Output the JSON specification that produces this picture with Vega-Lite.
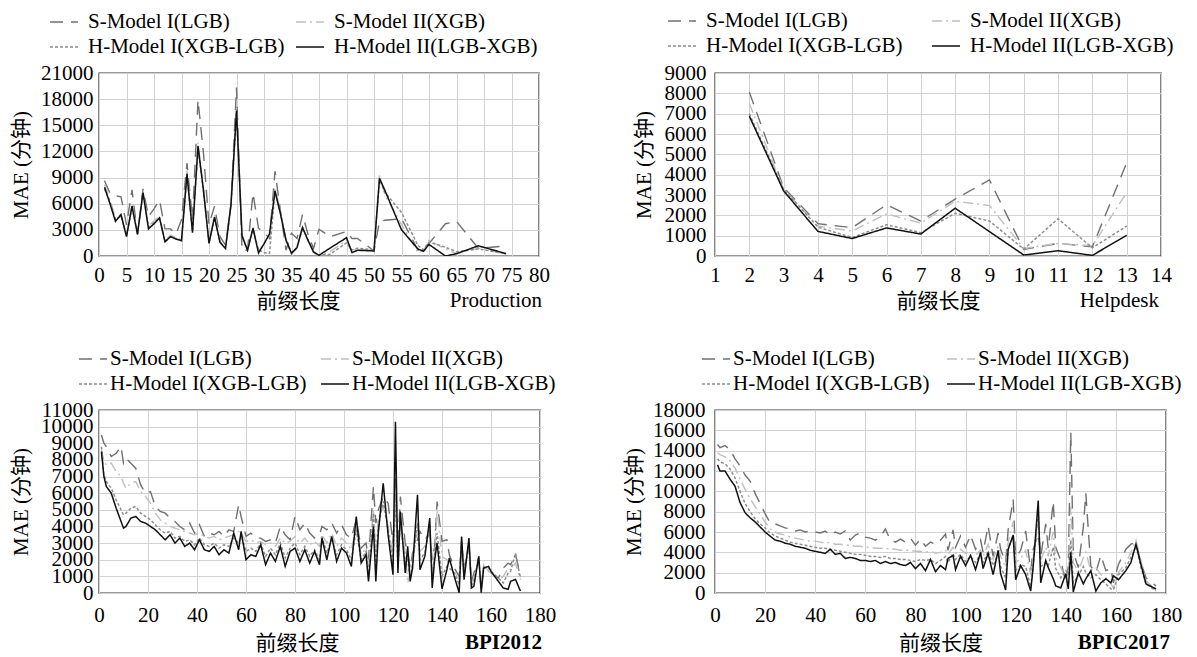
{
  "$schema": "https://vega.github.io/schema/vega-lite/v6.json",
  "padding": {"left": 9, "top": 5, "right": 5, "bottom": 0},
  "background": "white",
  "columns": 2,
  "spacing": {"column": 65, "row": 31},
  "resolve": {
    "scale": {"color": "independent", "strokeDash": "independent", "strokeWidth": "independent"},
    "legend": {"color": "independent", "strokeDash": "independent", "strokeWidth": "independent"}
  },
  "config": {
    "font": "'Liberation Serif', 'Times New Roman', 'Noto Sans CJK SC', serif",
    "view": {"stroke": "#333333", "strokeWidth": 1.4},
    "axis": {
      "labelFont": "'Liberation Serif', 'Times New Roman', 'Noto Sans CJK SC', serif",
      "titleFont": "'Liberation Serif', 'Times New Roman', 'Noto Sans CJK SC', serif",
      "labelFontSize": 21, "titleFontSize": 21, "labelColor": "#000", "titleColor": "#000",
      "titleFontWeight": "normal", "grid": true, "gridColor": "#d2d2d2", "gridWidth": 1,
      "domain": false, "ticks": false, "tickSize": 0, "labelOverlap": false, "labelFlush": false, "labelBound": false,
      "format": "d"
    },
    "axisX": {"labelPadding": 8, "titlePadding": 5},
    "axisY": {"labelPadding": 6, "titlePadding": 9},
    "legend": {
      "labelFont": "'Liberation Serif', 'Times New Roman', 'Noto Sans CJK SC', serif", "labelFontSize": 21, "labelColor": "#000",
      "symbolType": "stroke", "symbolSize": 784, "columns": 2, "direction": "horizontal", "orient": "none", "title": null,
      "labelLimit": 400, "padding": 0
    },
    "title": {
      "font": "'Liberation Serif', 'Times New Roman', 'Noto Sans CJK SC', serif", "fontSize": 21, "fontWeight": "normal", "color": "#000",
      "orient": "bottom", "anchor": "end", "frame": "group", "offset": -21
    }
  },
  "concat": [
    {
      "width": 440, "height": 183,
      "title": {"text": "Production", "dx": 3},
      "data": {"values": [
        {"x":1,"a":8640,"b":8200,"c":7700,"d":7900},{"x":2,"a":7200,"b":6500,"c":6200,"d":6000},
        {"x":3,"a":6900,"b":4300,"c":4200,"d":3970},{"x":4,"a":6800,"b":4800,"c":4600,"d":4750},
        {"x":5,"a":3580,"b":2500,"c":2300,"d":2220},{"x":6,"a":7590,"b":5900,"c":5600,"d":5720},
        {"x":7,"a":2490,"b":2700,"c":2600,"d":2490},{"x":8,"a":7700,"b":7400,"c":7200,"d":7280},
        {"x":9,"a":4550,"b":3500,"c":3300,"d":3110},{"x":10,"a":5400,"b":4000,"c":3800,"d":3700},
        {"x":11,"a":6420,"b":4600,"c":4400,"d":4360},{"x":12,"a":3110,"b":1800,"c":1700,"d":1630},
        {"x":13,"a":3110,"b":2400,"c":2200,"d":2220},{"x":14,"a":2530,"b":2100,"c":2000,"d":1950},
        {"x":15,"a":4160,"b":1900,"c":1800,"d":1750},{"x":16,"a":10660,"b":9800,"c":9200,"d":9420},
        {"x":17,"a":4160,"b":2900,"c":2800,"d":2680},{"x":18,"a":17900,"b":13000,"c":12400,"d":12650},
        {"x":19,"a":11750,"b":7800,"c":7400,"d":7500},{"x":20,"a":3580,"b":1700,"c":1500,"d":1440},
        {"x":21,"a":5720,"b":4700,"c":4400,"d":4470},{"x":22,"a":2220,"b":1700,"c":1600,"d":1560},
        {"x":23,"a":1250,"b":1000,"c":900,"d":860},{"x":24,"a":5910,"b":6000,"c":5800,"d":5910},
        {"x":25,"a":19340,"b":17000,"c":16500,"d":16690},{"x":26,"a":660,"b":2400,"c":2200,"d":2330},
        {"x":27,"a":660,"b":800,"c":700,"d":660},{"x":28,"a":7200,"b":3300,"c":3000,"d":3190},
        {"x":29,"a":3190,"b":600,"c":700,"d":350},{"x":30,"a":2700,"b":1300,"c":400,"d":1400},
        {"x":31,"a":2020,"b":2400,"c":300,"d":2530},{"x":32,"a":9730,"b":7900,"c":7400,"d":7470},
        {"x":33,"a":5140,"b":5000,"c":4900,"d":4800},{"x":34,"a":660,"b":1700,"c":1900,"d":1830},
        {"x":35,"a":2610,"b":200,"c":400,"d":300},{"x":36,"a":2020,"b":900,"c":1000,"d":970},
        {"x":37,"a":4750,"b":3500,"c":3200,"d":3270},{"x":38,"a":2500,"b":1700,"c":1900,"d":1800},
        {"x":39,"a":860,"b":400,"c":500,"d":470},{"x":40,"a":3070,"b":0,"c":100,"d":80},
        {"x":42,"a":2220,"b":500,"c":200,"d":900},{"x":45,"a":2800,"b":1800,"c":1500,"d":2100},
        {"x":46,"a":2000,"b":600,"c":700,"d":390},{"x":47,"a":2020,"b":800,"c":900,"d":660},
        {"x":50,"a":580,"b":600,"c":700,"d":580},{"x":51,"a":3970,"b":9300,"c":8700,"d":8910},
        {"x":52,"a":4100,"b":7000,"c":7300,"d":7500},{"x":55,"a":4280,"b":3600,"c":5000,"d":3000},
        {"x":58,"a":660,"b":400,"c":1200,"d":800},{"x":59,"a":900,"b":600,"c":700,"d":540},
        {"x":60,"a":1440,"b":1800,"c":1600,"d":1320},{"x":63,"a":3700,"b":800,"c":1000,"d":0},
        {"x":65,"a":3970,"b":300,"c":500,"d":270},{"x":69,"a":860,"b":900,"c":800,"d":1170},
        {"x":74,"a":1170,"b":200,"c":300,"d":270}
      ]},
      "transform": [{"fold": ["a", "b", "c", "d"], "as": ["s", "v"]}],
      "mark": {"type": "line", "clip": true},
      "encoding": {
        "x": {"field": "x", "type": "quantitative", "scale": {"domain": [0, 80], "nice": false},
              "axis": {"values": [0,5,10,15,20,25,30,35,40,45,50,55,60,65,70,75,80], "title": "前缀长度", "titleX": 199}},
        "y": {"field": "v", "type": "quantitative", "scale": {"domain": [0, 21000], "nice": false},
              "axis": {"values": [0,3000,6000,9000,12000,15000,18000,21000], "title": "MAE (分钟)"}},
        "color": {"field": "s", "type": "nominal",
                  "scale": {"domain": ["a","b","c","d"], "range": ["#707070","#c0c0c0","#8c8c8c","#111111"]},
                  "legend": {"legendX": -50, "legendY": -66, "labelOffset": 9, "columnPadding": 8, "rowPadding": 0,
                             "labelExpr": "datum.label == 'a' ? 'S-Model I(LGB)' : datum.label == 'b' ? 'S-Model II(XGB)' : datum.label == 'c' ? 'H-Model I(XGB-LGB)' : 'H-Model II(LGB-XGB)'"}},
        "strokeDash": {"field": "s", "type": "nominal",
                       "scale": {"domain": ["a","b","c","d"], "range": [[13,8],[10,4,2,4],[3,2],[1,0]]}},
        "strokeWidth": {"field": "s", "type": "nominal",
                        "scale": {"domain": ["a","b","c","d"], "range": [1.4,1.5,1.2,1.8]}}
      }
    },
    {
      "width": 446, "height": 183,
      "title": {"text": "Helpdesk", "dx": -2},
      "data": {"values": [
        {"x":2,"a":8060,"b":7500,"c":7000,"d":6880},{"x":3,"a":3370,"b":3280,"c":3280,"d":3200},
        {"x":4,"a":1590,"b":1470,"c":1420,"d":1210},{"x":5,"a":1390,"b":1230,"c":910,"d":860},
        {"x":6,"a":2520,"b":2070,"c":1540,"d":1380},{"x":7,"a":1720,"b":1620,"c":1150,"d":1080},
        {"x":8,"a":2800,"b":2690,"c":2100,"d":2350},{"x":9,"a":3740,"b":2480,"c":1720,"d":1200},
        {"x":10,"a":320,"b":370,"c":340,"d":50},{"x":11,"a":620,"b":620,"c":1830,"d":260},
        {"x":12,"a":450,"b":500,"c":400,"d":30},{"x":13,"a":4580,"b":3120,"c":1470,"d":1020}
      ]},
      "transform": [{"fold": ["a", "b", "c", "d"], "as": ["s", "v"]}],
      "mark": {"type": "line", "clip": true},
      "encoding": {
        "x": {"field": "x", "type": "quantitative", "scale": {"domain": [1, 14], "nice": false},
              "axis": {"values": [1,2,3,4,5,6,7,8,9,10,11,12,13,14], "title": "前缀长度"}},
        "y": {"field": "v", "type": "quantitative", "scale": {"domain": [0, 9000], "nice": false},
              "axis": {"values": [0,1000,2000,3000,4000,5000,6000,7000,8000,9000], "title": "MAE (分钟)", "labelPadding": 9, "titlePadding": 10}},
        "color": {"field": "s", "type": "nominal",
                  "scale": {"domain": ["a","b","c","d"], "range": ["#707070","#c0c0c0","#8c8c8c","#111111"]},
                  "legend": {"legendX": -48, "legendY": -67, "labelOffset": 9, "columnPadding": 26, "rowPadding": 0,
                             "labelExpr": "datum.label == 'a' ? 'S-Model I(LGB)' : datum.label == 'b' ? 'S-Model II(XGB)' : datum.label == 'c' ? 'H-Model I(XGB-LGB)' : 'H-Model II(LGB-XGB)'"}},
        "strokeDash": {"field": "s", "type": "nominal",
                       "scale": {"domain": ["a","b","c","d"], "range": [[13,8],[10,4,2,4],[3,2],[1,0]]}},
        "strokeWidth": {"field": "s", "type": "nominal",
                        "scale": {"domain": ["a","b","c","d"], "range": [1.4,1.5,1.2,1.8]}}
      }
    },
    {
      "width": 441, "height": 183,
      "title": {"text": "BPI2012", "dx": 2, "fontWeight": "bold"},
      "data": {"values": [
        {"x":1,"a":9500,"b":8600,"c":8800,"d":8500},{"x":2,"a":9000,"b":7900,"c":7100,"d":7000},
        {"x":3,"a":8800,"b":7700,"c":6700,"d":6400},{"x":5,"a":8200,"b":7800,"c":6300,"d":6000},
        {"x":7,"a":8400,"b":7300,"c":5600,"d":5100},{"x":9,"a":8800,"b":7000,"c":5000,"d":4300},
        {"x":10,"a":7800,"b":6600,"c":4700,"d":3900},{"x":11,"a":8100,"b":6300,"c":4800,"d":4000},
        {"x":13,"a":7800,"b":6600,"c":5100,"d":4500},{"x":15,"a":7500,"b":6700,"c":5200,"d":4600},
        {"x":17,"a":6500,"b":6100,"c":4800,"d":4300},{"x":19,"a":6000,"b":5800,"c":4600,"d":4200},
        {"x":21,"a":6100,"b":5400,"c":4400,"d":4000},{"x":23,"a":5200,"b":4800,"c":4100,"d":3800},
        {"x":25,"a":4900,"b":4400,"c":3800,"d":3500},{"x":27,"a":4800,"b":4200,"c":3600,"d":3200},
        {"x":29,"a":4500,"b":4000,"c":3700,"d":3500},{"x":31,"a":4300,"b":3900,"c":3300,"d":3000},
        {"x":33,"a":4000,"b":3800,"c":3400,"d":3300},{"x":35,"a":3800,"b":3700,"c":3100,"d":2800},
        {"x":37,"a":4200,"b":3600,"c":3200,"d":3000},{"x":39,"a":3600,"b":3500,"c":2900,"d":2600},
        {"x":41,"a":4100,"b":3600,"c":3300,"d":3200},{"x":43,"a":3400,"b":3400,"c":2900,"d":2600},
        {"x":45,"a":3600,"b":3300,"c":2800,"d":2500},{"x":47,"a":3500,"b":3400,"c":3000,"d":2800},
        {"x":49,"a":3700,"b":3200,"c":2700,"d":2300},{"x":51,"a":3400,"b":3300,"c":2900,"d":2600},
        {"x":53,"a":3800,"b":3400,"c":2800,"d":2400},{"x":55,"a":3700,"b":3500,"c":3300,"d":3600},
        {"x":57,"a":5300,"b":3700,"c":3000,"d":2600},{"x":58,"a":4600,"b":3600,"c":3500,"d":3700},
        {"x":60,"a":3400,"b":3100,"c":2500,"d":2000},{"x":62,"a":3600,"b":3200,"c":2700,"d":2300},
        {"x":64,"a":3300,"b":3000,"c":2500,"d":2200},{"x":66,"a":3300,"b":3100,"c":3000,"d":2900},
        {"x":68,"a":3100,"b":2900,"c":2200,"d":1700},{"x":70,"a":3200,"b":3000,"c":2700,"d":2400},
        {"x":72,"a":3000,"b":2800,"c":2300,"d":1900},{"x":74,"a":4000,"b":3300,"c":3000,"d":2800},
        {"x":76,"a":3500,"b":3000,"c":2100,"d":1600},{"x":78,"a":3200,"b":3100,"c":2700,"d":2500},
        {"x":80,"a":4600,"b":3400,"c":3000,"d":2700},{"x":82,"a":3800,"b":3000,"c":2300,"d":1900},
        {"x":84,"a":4200,"b":3300,"c":2800,"d":2600},{"x":86,"a":3600,"b":2900,"c":2200,"d":1800},
        {"x":88,"a":3300,"b":3100,"c":2600,"d":2500},{"x":90,"a":3500,"b":2800,"c":2000,"d":1700},
        {"x":91,"a":4000,"b":3500,"c":3400,"d":3300},{"x":93,"a":3800,"b":3000,"c":2400,"d":2000},
        {"x":95,"a":4200,"b":3600,"c":3300,"d":3400},{"x":97,"a":3600,"b":2800,"c":2300,"d":1900},
        {"x":99,"a":4100,"b":3300,"c":2900,"d":2700},{"x":101,"a":3500,"b":3000,"c":2600,"d":2400},
        {"x":103,"a":3300,"b":2600,"c":2000,"d":1600},{"x":105,"a":4400,"b":4000,"c":3800,"d":4600},
        {"x":107,"a":2700,"b":2300,"c":2000,"d":1800},{"x":109,"a":3000,"b":2700,"c":2500,"d":2300},
        {"x":110,"a":2000,"b":1500,"c":1000,"d":700},{"x":112,"a":6400,"b":5000,"c":4800,"d":4000},
        {"x":113,"a":4200,"b":2500,"c":1500,"d":700},{"x":114,"a":5000,"b":4500,"c":4000,"d":3600},
        {"x":116,"a":5800,"b":5200,"c":5500,"d":6600},{"x":118,"a":5400,"b":4000,"c":3800,"d":3500},
        {"x":120,"a":3000,"b":2200,"c":1800,"d":1100},{"x":121,"a":6900,"b":5500,"c":6000,"d":10300},
        {"x":122,"a":2500,"b":2000,"c":1500,"d":1200},{"x":123,"a":5800,"b":4600,"c":4300,"d":4900},
        {"x":125,"a":3000,"b":2400,"c":1800,"d":1200},{"x":126,"a":2500,"b":600,"c":2000,"d":2800},
        {"x":127,"a":1500,"b":1200,"c":900,"d":700},{"x":128,"a":2400,"b":2000,"c":1800,"d":1500},
        {"x":130,"a":3200,"b":4000,"c":4200,"d":5900},{"x":131,"a":3700,"b":2500,"c":2000,"d":1400},
        {"x":133,"a":3200,"b":2800,"c":2400,"d":2200},{"x":135,"a":3600,"b":3800,"c":4000,"d":4500},
        {"x":136,"a":2000,"b":1200,"c":800,"d":300},{"x":137,"a":2800,"b":2500,"c":2200,"d":2000},
        {"x":138,"a":5500,"b":5000,"c":3600,"d":3000},{"x":140,"a":3100,"b":2200,"c":1000,"d":250},
        {"x":142,"a":3200,"b":2000,"c":1600,"d":1400},{"x":143,"a":2300,"b":1800,"c":1500,"d":2100},
        {"x":145,"a":1500,"b":1300,"c":1200,"d":1000},{"x":147,"a":1000,"b":800,"c":500,"d":20},
        {"x":148,"a":3000,"b":3200,"c":3100,"d":3400},{"x":149,"a":1500,"b":1200,"c":1000,"d":800},
        {"x":151,"a":2800,"b":3100,"c":3000,"d":3300},{"x":152,"a":600,"b":500,"c":400,"d":300},
        {"x":153,"a":1200,"b":900,"c":700,"d":400},{"x":155,"a":2100,"b":2000,"c":2200,"d":2200},
        {"x":156,"a":400,"b":300,"c":200,"d":20},{"x":157,"a":1600,"b":1700,"c":1500,"d":1500},
        {"x":159,"a":1400,"b":1300,"c":1500,"d":1600},{"x":160,"a":1200,"b":1200,"c":1300,"d":1300},
        {"x":163,"a":900,"b":800,"c":900,"d":700},{"x":165,"a":1500,"b":1000,"c":600,"d":300},
        {"x":167,"a":1800,"b":1500,"c":1200,"d":220},{"x":168,"a":1700,"b":1400,"c":1300,"d":700},
        {"x":170,"a":2300,"b":1800,"c":2400,"d":820},{"x":172,"a":1000,"b":800,"c":900,"d":120}
      ]},
      "transform": [{"fold": ["a", "b", "c", "d"], "as": ["s", "v"]}],
      "mark": {"type": "line", "clip": true},
      "encoding": {
        "x": {"field": "x", "type": "quantitative", "scale": {"domain": [0, 180], "nice": false},
              "axis": {"values": [0,20,40,60,80,100,120,140,160,180], "title": "前缀长度", "titleX": 198, "labelPadding": 11, "titlePadding": 7}},
        "y": {"field": "v", "type": "quantitative", "scale": {"domain": [0, 11000], "nice": false},
              "axis": {"values": [0,1000,2000,3000,4000,5000,6000,7000,8000,9000,10000,11000], "title": "MAE (分钟)"}},
        "color": {"field": "s", "type": "nominal",
                  "scale": {"domain": ["a","b","c","d"], "range": ["#707070","#c0c0c0","#8c8c8c","#111111"]},
                  "legend": {"legendX": -21, "legendY": -66, "labelOffset": 2, "columnPadding": 11, "rowPadding": 0,
                             "labelExpr": "datum.label == 'a' ? 'S-Model I(LGB)' : datum.label == 'b' ? 'S-Model II(XGB)' : datum.label == 'c' ? 'H-Model I(XGB-LGB)' : 'H-Model II(LGB-XGB)'"}},
        "strokeDash": {"field": "s", "type": "nominal",
                       "scale": {"domain": ["a","b","c","d"], "range": [[13,8],[10,4,2,4],[3,2],[1,0]]}},
        "strokeWidth": {"field": "s", "type": "nominal",
                        "scale": {"domain": ["a","b","c","d"], "range": [1.4,1.5,1.2,1.6]}}
      }
    },
    {
      "width": 451, "height": 183,
      "title": {"text": "BPIC2017", "dx": 4, "fontWeight": "bold"},
      "data": {"values": [
        {"x":1,"a":14600,"b":13800,"c":13200,"d":12600},{"x":2,"a":14300,"b":13600,"c":12900,"d":12000},
        {"x":4,"a":14500,"b":13400,"c":12700,"d":12000},{"x":6,"a":14100,"b":13000,"c":12200,"d":11200},
        {"x":8,"a":13200,"b":12300,"c":11300,"d":10500},{"x":10,"a":12500,"b":11200,"c":10000,"d":8900},
        {"x":12,"a":11600,"b":10200,"c":8800,"d":7900},{"x":14,"a":11000,"b":9300,"c":8000,"d":7400},
        {"x":16,"a":9800,"b":8500,"c":7300,"d":7000},{"x":18,"a":8800,"b":7700,"c":6800,"d":6500},
        {"x":20,"a":7800,"b":7000,"c":6400,"d":6000},{"x":22,"a":6900,"b":6300,"c":5900,"d":5600},
        {"x":24,"a":6800,"b":6000,"c":5600,"d":5200},{"x":26,"a":6600,"b":5800,"c":5400,"d":5100},
        {"x":28,"a":6400,"b":5700,"c":5200,"d":4900},{"x":30,"a":6300,"b":5500,"c":5000,"d":4800},
        {"x":32,"a":6100,"b":5400,"c":4900,"d":4600},{"x":34,"a":6200,"b":5300,"c":4800,"d":4500},
        {"x":36,"a":6000,"b":5200,"c":4700,"d":4400},{"x":38,"a":6100,"b":5100,"c":4600,"d":4200},
        {"x":40,"a":6000,"b":5100,"c":4500,"d":4100},{"x":42,"a":5900,"b":5000,"c":4400,"d":4000},
        {"x":44,"a":6100,"b":4900,"c":4400,"d":3900},{"x":46,"a":5700,"b":5000,"c":4300,"d":4300},
        {"x":48,"a":6000,"b":4800,"c":4200,"d":3800},{"x":50,"a":5800,"b":4800,"c":4100,"d":3900},
        {"x":52,"a":6100,"b":4700,"c":4000,"d":3400},{"x":54,"a":5200,"b":4700,"c":3900,"d":3500},
        {"x":56,"a":5700,"b":4600,"c":3800,"d":3400},{"x":58,"a":5900,"b":4600,"c":3800,"d":3200},
        {"x":60,"a":5500,"b":4500,"c":3700,"d":3200},{"x":62,"a":5400,"b":4500,"c":3600,"d":3100},
        {"x":64,"a":5200,"b":4400,"c":3600,"d":3200},{"x":66,"a":5500,"b":4400,"c":3500,"d":2900},
        {"x":68,"a":6300,"b":4400,"c":3600,"d":3100},{"x":70,"a":5200,"b":4300,"c":3400,"d":2900},
        {"x":72,"a":5000,"b":4300,"c":3400,"d":3000},{"x":74,"a":5300,"b":4200,"c":3300,"d":2800},
        {"x":76,"a":5000,"b":4200,"c":3300,"d":2700},{"x":78,"a":5400,"b":4200,"c":3200,"d":3000},
        {"x":80,"a":4700,"b":4100,"c":3100,"d":2400},{"x":82,"a":5300,"b":4100,"c":3300,"d":2900},
        {"x":84,"a":4600,"b":4000,"c":3200,"d":2200},{"x":86,"a":5000,"b":4100,"c":3300,"d":3300},
        {"x":88,"a":4800,"b":3900,"c":2900,"d":2100},{"x":90,"a":5200,"b":4000,"c":3200,"d":2700},
        {"x":92,"a":5800,"b":4200,"c":3600,"d":2300},{"x":93,"a":4200,"b":3800,"c":3000,"d":3400},
        {"x":95,"a":6200,"b":4500,"c":3900,"d":3700},{"x":96,"a":4500,"b":3900,"c":3300,"d":2300},
        {"x":98,"a":5600,"b":4300,"c":3800,"d":3600},{"x":100,"a":4500,"b":3900,"c":3100,"d":2700},
        {"x":102,"a":5700,"b":4100,"c":3600,"d":3700},{"x":104,"a":4300,"b":3700,"c":3000,"d":2300},
        {"x":106,"a":5200,"b":4200,"c":3900,"d":4000},{"x":107,"a":4000,"b":3600,"c":3000,"d":2400},
        {"x":109,"a":6600,"b":4800,"c":4100,"d":3900},{"x":111,"a":3600,"b":3300,"c":2700,"d":1800},
        {"x":113,"a":5900,"b":4600,"c":3900,"d":4200},{"x":114,"a":4300,"b":3600,"c":2600,"d":1900},
        {"x":116,"a":3000,"b":2500,"c":1500,"d":300},{"x":117,"a":6200,"b":5000,"c":4300,"d":4300},
        {"x":119,"a":9200,"b":7000,"c":5600,"d":5700},{"x":120,"a":3500,"b":3000,"c":2200,"d":1300},
        {"x":122,"a":4200,"b":3400,"c":2800,"d":2700},{"x":124,"a":6100,"b":4200,"c":2600,"d":1800},
        {"x":126,"a":2200,"b":1800,"c":600,"d":200},{"x":127,"a":4300,"b":3500,"c":2800,"d":2600},
        {"x":129,"a":5800,"b":7000,"c":8000,"d":9100},{"x":130,"a":3600,"b":3200,"c":2600,"d":1000},
        {"x":132,"a":6800,"b":4500,"c":3000,"d":3200},{"x":133,"a":4400,"b":3600,"c":2700,"d":2500},
        {"x":135,"a":9000,"b":6000,"c":4500,"d":1400},{"x":136,"a":4500,"b":3500,"c":2400,"d":700},
        {"x":138,"a":3200,"b":2500,"c":1500,"d":500},{"x":140,"a":1000,"b":1500,"c":2200,"d":1900},
        {"x":141,"a":2600,"b":2000,"c":1800,"d":400},{"x":142,"a":15800,"b":8500,"c":5200,"d":4000},
        {"x":143,"a":4000,"b":3000,"c":1000,"d":100},{"x":145,"a":2500,"b":2100,"c":1700,"d":2000},
        {"x":147,"a":6500,"b":3500,"c":2600,"d":900},{"x":148,"a":9800,"b":4000,"c":2000,"d":1400},
        {"x":150,"a":2600,"b":2200,"c":1500,"d":2200},{"x":152,"a":2000,"b":2500,"c":1800,"d":200},
        {"x":154,"a":3700,"b":1800,"c":1300,"d":1000},{"x":156,"a":2200,"b":1500,"c":900,"d":1400},
        {"x":158,"a":2400,"b":900,"c":400,"d":1000},{"x":159,"a":1000,"b":500,"c":300,"d":1700},
        {"x":161,"a":2800,"b":2000,"c":1800,"d":1300},{"x":164,"a":4300,"b":3000,"c":2500,"d":2200},
        {"x":166,"a":4800,"b":4000,"c":3500,"d":3000},{"x":168,"a":5000,"b":5200,"c":4600,"d":4800},
        {"x":170,"a":3000,"b":3200,"c":2500,"d":2800},{"x":172,"a":1500,"b":1200,"c":900,"d":900},
        {"x":176,"a":700,"b":300,"c":200,"d":400}
      ]},
      "transform": [{"fold": ["a", "b", "c", "d"], "as": ["s", "v"]}],
      "mark": {"type": "line", "clip": true},
      "encoding": {
        "x": {"field": "x", "type": "quantitative", "scale": {"domain": [0, 180], "nice": false},
              "axis": {"values": [0,20,40,60,80,100,120,140,160,180], "title": "前缀长度", "labelPadding": 11, "titlePadding": 7}},
        "y": {"field": "v", "type": "quantitative", "scale": {"domain": [0, 18000], "nice": false},
              "axis": {"values": [0,2000,4000,6000,8000,10000,12000,14000,16000,18000], "title": "MAE (分钟)", "labelPadding": 10, "titlePadding": 8}},
        "color": {"field": "s", "type": "nominal",
                  "scale": {"domain": ["a","b","c","d"], "range": ["#707070","#c0c0c0","#8c8c8c","#111111"]},
                  "legend": {"legendX": -14, "legendY": -66, "labelOffset": 2, "columnPadding": 14, "rowPadding": 0,
                             "labelExpr": "datum.label == 'a' ? 'S-Model I(LGB)' : datum.label == 'b' ? 'S-Model II(XGB)' : datum.label == 'c' ? 'H-Model I(XGB-LGB)' : 'H-Model II(LGB-XGB)'"}},
        "strokeDash": {"field": "s", "type": "nominal",
                       "scale": {"domain": ["a","b","c","d"], "range": [[13,8],[10,4,2,4],[3,2],[1,0]]}},
        "strokeWidth": {"field": "s", "type": "nominal",
                        "scale": {"domain": ["a","b","c","d"], "range": [1.4,1.5,1.2,1.6]}}
      }
    }
  ]
}
